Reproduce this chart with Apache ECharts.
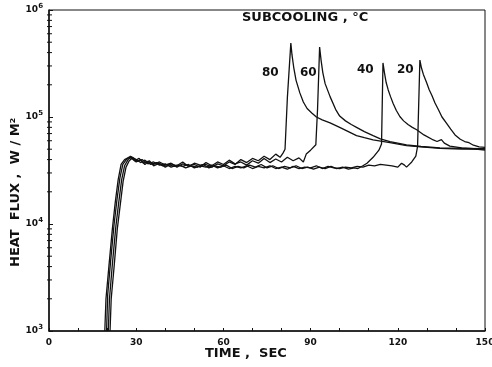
<!DOCTYPE html>
<html>
<head>
<meta charset="utf-8">
<script src="https://cdn.jsdelivr.net/npm/echarts@6/dist/echarts.min.js"></script>
<style>
  html, body { margin: 0; padding: 0; background: #fff; }
  #chart { width: 492px; height: 367px; }
</style>
</head>
<body>
<div id="chart"></div>
<script>
// heat flux (W/m2) vs time (s), one list of [t, q] per subcooling
const sub80 = [
  [19.2, 1000], [19.6, 2000], [20.6, 4000], [21.8, 9000], [22.8, 16000], [23.8, 26000], [24.8, 36000],
  [26, 40000], [27.5, 42000], [28.5, 41000], [30, 38000], [31.5, 40000], [33, 36000], [34.5, 39000],
  [36, 35000], [38, 37000], [40, 34000], [42, 36500], [44, 35000], [46, 38000], [48, 34500], [50, 37000],
  [52, 35500], [54, 36000], [56, 34000], [58, 36500], [60, 35000], [62, 38000], [64, 36000], [66, 40000],
  [68, 37500], [70, 41000], [72, 39000], [74, 43000], [76, 40000], [78, 45000], [79.5, 42000], [80.5, 46000],
  [81.2, 50000], [82, 150000], [83.2, 490000], [83.6, 380000], [84.2, 290000], [85, 220000], [86.3, 168000],
  [87.5, 138000], [88.8, 120000], [90.4, 109000], [92, 100000], [94, 94000], [96.7, 88000], [100, 80000],
  [103, 73000], [105.8, 67000], [108.5, 64000], [111.5, 61000], [117.3, 57500], [123, 54000], [128, 52500],
  [134.5, 51000], [142, 50000], [150, 50000]
];
const sub60 = [
  [19.8, 1000], [20.2, 2200], [21.2, 4500], [22.4, 10000], [23.4, 17000], [24.4, 27000], [25.4, 36000],
  [26.6, 40000], [28, 43000], [29.5, 39000], [31, 41000], [32.5, 37000], [34, 38500], [36, 36000],
  [38, 38000], [40, 35500], [42, 37000], [44, 34000], [46, 36500], [48, 35000], [50, 36000], [52, 34000],
  [54, 37500], [56, 35000], [58, 38000], [60, 36000], [62, 39500], [64, 36500], [66, 38000], [68, 35500],
  [70, 39000], [72, 37000], [74, 41000], [76, 37500], [78, 40500], [80, 38000], [82, 42000], [84, 39000],
  [86, 41500], [87.5, 38000], [88.5, 45000], [90, 49000], [91.8, 55000], [92.4, 120000], [93.1, 450000],
  [93.6, 340000], [94.2, 260000], [95, 205000], [96.7, 155000], [98.6, 118000], [100, 102000], [102, 92000],
  [104, 85000], [105.8, 80000], [108.5, 73000], [111.5, 67000], [114, 62500], [117.3, 59000], [123, 55000],
  [128, 53000], [134.5, 51500], [142, 51000], [150, 50500]
];
const sub40 = [
  [20.4, 1000], [20.8, 2000], [21.8, 4200], [23, 9500], [24, 16000], [25, 26000], [26, 35000],
  [27.2, 40000], [28.4, 42500], [30, 40000], [31.5, 37500], [33, 39500], [35, 36000], [37, 37500],
  [39, 35000], [41, 36000], [43, 34500], [45, 35500], [47, 33500], [49, 35000], [51, 34000], [53, 36000],
  [55, 33500], [57, 35000], [59, 34000], [61, 35500], [63, 33000], [65, 34500], [67, 33500], [69, 35500],
  [71, 34000], [73, 36000], [75, 33500], [77, 35000], [79, 33000], [81, 34500], [83, 33500], [85, 35000],
  [87, 33000], [89, 34000], [91, 32500], [93, 34000], [95, 33000], [97, 34500], [99, 33000], [101, 34000],
  [103, 32500], [105, 33500], [106.3, 33000], [108, 35000], [109.4, 37000], [111.5, 42000], [113.5, 49000],
  [114.4, 56000], [114.9, 320000], [115.4, 260000], [116, 210000], [116.7, 179000], [117.5, 155000],
  [118.4, 134000], [119.5, 115000], [120.7, 101000], [122, 92000], [123.5, 85000], [125, 80000],
  [126.5, 76000], [129, 68000], [132.2, 61000], [133.5, 59000], [135, 61500], [136, 57000], [137.9, 53500],
  [142, 51500], [146, 50500], [150, 49000]
];
const sub20 = [
  [21, 1000], [21.4, 2000], [22.4, 4000], [23.5, 9000], [24.5, 15000], [25.5, 25000], [26.5, 34000],
  [27.6, 39000], [28.8, 41500], [30.5, 38500], [32, 40000], [34, 36500], [36, 38000], [38, 35500],
  [40, 36500], [42, 34000], [44, 35500], [46, 34500], [48, 36000], [50, 33500], [52, 35000], [54, 34000],
  [56, 35500], [58, 33500], [60, 35000], [62, 33000], [64, 34500], [66, 33500], [68, 35000], [70, 33000],
  [72, 34500], [74, 33500], [76, 35000], [78, 33000], [80, 34000], [82, 32500], [84, 34500], [86, 33000],
  [88, 34000], [90, 33500], [92, 35000], [94, 33000], [96, 34500], [98, 33500], [100, 33000], [102, 34000],
  [104, 33500], [106, 34500], [108, 34000], [110, 35500], [112, 35000], [114, 36000], [116, 35500],
  [118, 35000], [120, 34000], [121.3, 37000], [122.3, 35500], [123, 34000], [124.8, 38000], [126.2, 43000],
  [126.8, 53000], [127.6, 340000], [128.1, 290000], [128.8, 250000], [129.9, 210000], [130.8, 180000],
  [131.7, 160000], [132.8, 135000], [133.9, 118000], [135.2, 100000], [136.8, 87000], [138.2, 77000],
  [139.7, 68000], [141.5, 62000], [143, 59000], [144.5, 57500], [146, 54500], [148, 52500], [150, 52000]
];
const seriesNames = ['80', '60', '40', '20'];
const xTicks = [0, 30, 60, 90, 120, 150];
const yDecades = [1000, 10000, 100000, 1000000];

// log minor ticks 2..9 within each decade
const yMinor = [];
for (let d = 0; d < yDecades.length - 1; d++) {
  for (let k = 2; k <= 9; k++) yMinor.push([0, yDecades[d] * k]);
}

const chart = echarts.init(document.getElementById('chart'));
const font = 'DejaVu Sans';

const lineSeries = (name, data) => ({
  name: name,
  type: 'line',
  data: data,
  showSymbol: false,
  lineStyle: { color: '#111', width: 1.3 },
  silent: true
});

chart.setOption({
  animation: false,
  backgroundColor: '#fff',
  grid: {
    left: 49, right: 7, top: 10, bottom: 36,
    outerBoundsMode: 'none',
    show: true, borderColor: '#111', borderWidth: 1
  },
  xAxis: {
    type: 'value',
    min: xTicks[0],
    max: xTicks[xTicks.length - 1],
    interval: 30,
    splitLine: { show: false },
    axisLine: { lineStyle: { color: '#111', width: 1.5 } },
    axisTick: { inside: true, length: 3, lineStyle: { color: '#111' } },
    minorTick: { show: true, splitNumber: 3, length: 3, lineStyle: { color: '#111' } },
    axisLabel: { color: '#111', fontFamily: font, fontWeight: 'bold', fontSize: 9, margin: 7 }
  },
  yAxis: {
    type: 'log',
    logBase: 10,
    min: yDecades[0],
    max: yDecades[yDecades.length - 1],
    splitLine: { show: false },
    axisLine: { lineStyle: { color: '#111', width: 1.5 } },
    axisTick: { inside: true, length: 4, lineStyle: { color: '#111' } },
    axisLabel: {
      margin: 6,
      formatter: v => '{b|10}{e|' + Math.round(Math.log10(v)) + '}',
      rich: {
        b: { color: '#111', fontFamily: font, fontWeight: 'bold', fontSize: 9 },
        e: { color: '#111', fontFamily: font, fontWeight: 'bold', fontSize: 7, verticalAlign: 'bottom', padding: [0, 0, 7, 0] }
      }
    }
  },
  series: [
    lineSeries(seriesNames[0], sub80),
    lineSeries(seriesNames[1], sub60),
    lineSeries(seriesNames[2], sub40),
    lineSeries(seriesNames[3], sub20),
    {
      type: 'custom',
      silent: true,
      data: yMinor,
      renderItem: (params, api) => {
        const p = api.coord([api.value(0), api.value(1)]);
        return {
          type: 'line',
          shape: { x1: p[0] - 2, y1: p[1], x2: p[0] + 3, y2: p[1] },
          style: { stroke: '#111', lineWidth: 1 }
        };
      }
    }
  ],
  graphic: [
    { type: 'text', left: 242, top: 11, style: { text: 'SUBCOOLING , °C', font: 'bold 13px "DejaVu Sans"', fill: '#111' } },
    { type: 'text', left: 262, top: 67, style: { text: seriesNames[0], font: 'bold 12px "DejaVu Sans"', fill: '#111' } },
    { type: 'text', left: 300, top: 67, style: { text: seriesNames[1], font: 'bold 12px "DejaVu Sans"', fill: '#111' } },
    { type: 'text', left: 357, top: 64, style: { text: seriesNames[2], font: 'bold 12px "DejaVu Sans"', fill: '#111' } },
    { type: 'text', left: 397, top: 64, style: { text: seriesNames[3], font: 'bold 12px "DejaVu Sans"', fill: '#111' } },
    { type: 'text', left: 205, top: 347, style: { text: 'TIME ,  SEC', font: 'bold 13px "DejaVu Sans"', fill: '#111' } },
    {
      type: 'text', x: 9, y: 267, rotation: Math.PI / 2,
      style: { text: 'HEAT  FLUX ,  W / M²', font: 'bold 13px "DejaVu Sans"', fill: '#111' }
    }
  ]
});
</script>
</body>
</html>
